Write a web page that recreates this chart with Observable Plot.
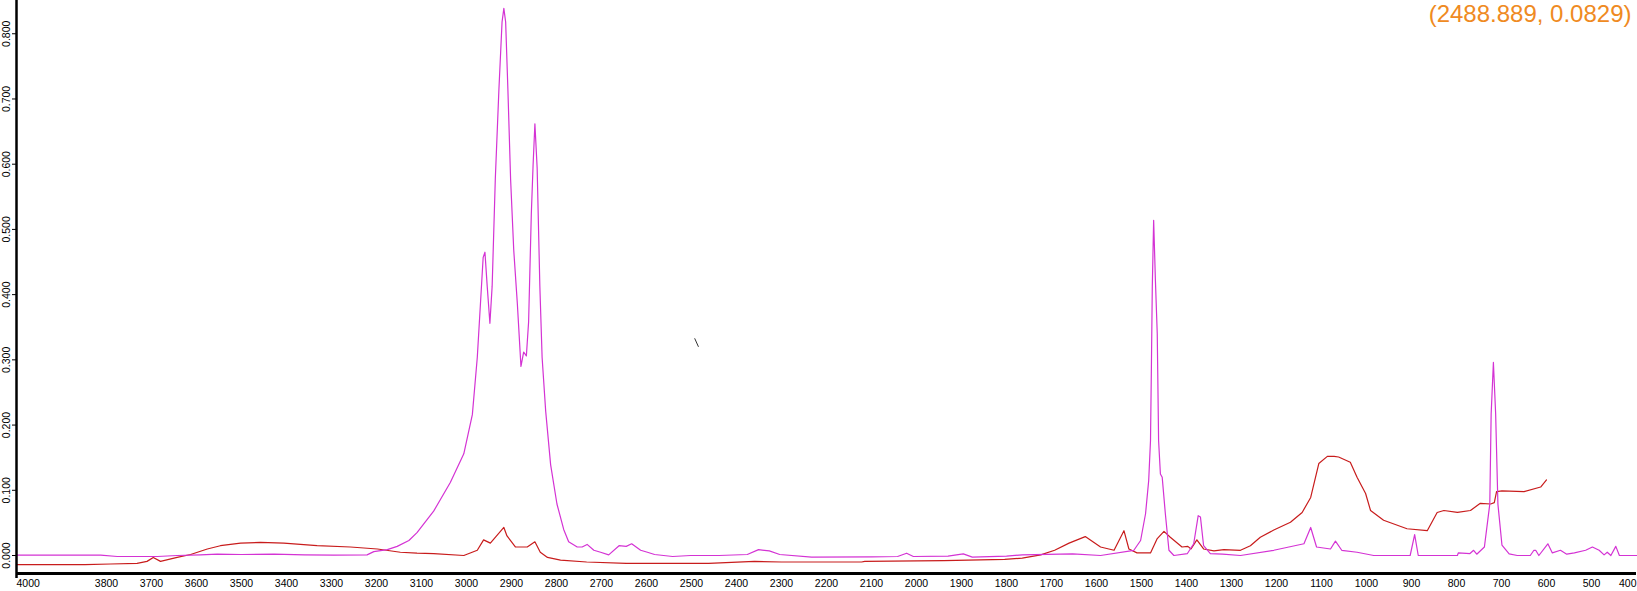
<!DOCTYPE html>
<html><head><meta charset="utf-8">
<script src="https://cdn.jsdelivr.net/npm/d3@7"></script>
<script src="https://cdn.jsdelivr.net/npm/@observablehq/plot@0.6"></script>
<style>body{margin:0;background:#fff;}#chart{width:1637px;height:591px;}</style>
</head><body><div id="chart"></div>
<script>
// Spectrum A (magenta): wavenumber (cm-1) and absorbance
const waveA = [4000,3813,3776,3740,3687,3643,3591,3554,3500,3428,3360,3295,3221,3206,3176,3154,3128,3110,3073,3036,3006,2987,2976,2969,2963,2959,2954,2948,2943,2936,2928,2921,2917,2913,2908,2902,2895,2887,2879,2873,2867,2862,2856,2852,2848,2843,2837,2832,2824,2813,2799,2784,2773,2754,2743,2732,2717,2702,2684,2661,2645,2633,2613,2598,2582,2542,2502,2439,2376,2351,2327,2304,2233,2100,2042,2022,2007,1930,1896,1876,1800,1765,1653,1591,1517,1502,1491,1484,1480,1478,1476,1473,1469,1465,1462,1458,1454,1447,1439,1428,1398,1384,1374,1369,1362,1347,1320,1280,1206,1139,1124,1111,1080,1069,1055,1021,984,903,893,885,798,796,770,762,755,738,726,723,718,713,708,699,683,665,636,628,624,617,597,587,569,555,538,513,498,483,472,465,457,446,438,400];
const absA  = [0.0005,0.0005,-0.0015,-0.0015,-0.0015,0.0,0.001,0.002,0.0015,0.002,0.001,0.0005,0.001,0.006,0.009,0.014,0.023,0.035,0.068,0.112,0.156,0.216,0.304,0.386,0.457,0.465,0.413,0.356,0.413,0.577,0.714,0.818,0.839,0.818,0.714,0.577,0.468,0.386,0.290,0.312,0.306,0.358,0.523,0.599,0.662,0.594,0.413,0.304,0.221,0.139,0.079,0.040,0.021,0.013,0.013,0.017,0.008,0.005,0.001,0.015,0.014,0.018,0.008,0.005,0.0015,-0.0015,0.0,0.0,0.0015,0.009,0.007,0.0015,-0.0025,-0.002,-0.0015,0.0035,-0.0015,-0.001,0.0025,-0.0025,-0.001,0.001,0.0025,0.0,0.008,0.023,0.064,0.115,0.176,0.289,0.412,0.514,0.42,0.34,0.176,0.125,0.120,0.064,0.008,0.0,0.003,0.018,0.061,0.059,0.015,0.003,0.002,0.0,0.008,0.018,0.043,0.013,0.010,0.022,0.008,0.005,0.0,0.0,0.032,0.0,0.0,0.004,0.003,0.008,0.002,0.013,0.079,0.217,0.296,0.217,0.079,0.016,0.0025,0.0,0.0,0.008,0.008,0.0,0.018,0.004,0.008,0.002,0.004,0.008,0.013,0.008,0.001,0.005,0.0,0.014,0.0,0.0];
// Spectrum B (red)
const waveB = [4000,3848,3791,3732,3710,3696,3680,3643,3613,3576,3547,3502,3458,3406,3332,3258,3198,3147,3110,3073,3006,2976,2962,2947,2917,2910,2891,2865,2848,2836,2820,2791,2733,2645,2462,2360,2300,2122,2115,1939,1804,1765,1724,1693,1661,1625,1591,1561,1539,1528,1510,1480,1465,1450,1436,1410,1397,1390,1377,1362,1339,1317,1280,1258,1236,1206,1169,1143,1124,1106,1087,1072,1062,1036,1021,1002,991,962,910,865,843,828,798,769,747,724,716,711,699,650,613,600];
const absB  = [-0.014,-0.014,-0.013,-0.012,-0.009,-0.003,-0.009,-0.003,0.0015,0.010,0.015,0.019,0.020,0.019,0.015,0.013,0.010,0.005,0.0035,0.003,0.0,0.008,0.024,0.019,0.043,0.030,0.013,0.013,0.021,0.005,-0.003,-0.007,-0.010,-0.012,-0.012,-0.009,-0.010,-0.010,-0.009,-0.008,-0.006,-0.004,0.001,0.008,0.019,0.029,0.013,0.008,0.038,0.010,0.004,0.004,0.026,0.037,0.028,0.013,0.014,0.010,0.024,0.010,0.007,0.009,0.008,0.015,0.028,0.039,0.051,0.066,0.089,0.141,0.152,0.152,0.151,0.143,0.120,0.095,0.069,0.054,0.041,0.038,0.066,0.069,0.066,0.069,0.080,0.079,0.081,0.098,0.099,0.098,0.105,0.116];
// Axis ticks
const xTicks = [3800,3700,3600,3500,3400,3300,3200,3100,3000,2900,2800,2700,2600,2500,2400,2300,2200,2100,2000,1900,1800,1700,1600,1500,1400,1300,1200,1100,1000,900,800,700,600,500];
const xEdgeLeft = [4000];
const xEdgeRight = [400];
const yTicks = [0,0.1,0.2,0.3,0.4,0.5,0.6,0.7,0.8];
const yDomain = [-0.0276, 0.851];
// Cursor readout and cursor mark
const readout = ["(2488.889, 0.0829)"];
const cursorMark = [{x1: 2493, y1: 0.333, x2: 2484.5, y2: 0.320}];

const dataA = waveA.map((x, i) => ({x, y: absA[i]}));
const dataB = waveB.map((x, i) => ({x, y: absB[i]}));
const fmt = d3.format(".3f");

const chart = Plot.plot({
  width: 1637, height: 591,
  marginLeft: 16, marginRight: 1, marginTop: 0, marginBottom: 18,
  x: {domain: [4000, 400]},
  y: {domain: yDomain},
  style: {fontFamily: "'Liberation Sans', Arial, sans-serif", background: "white", color: "black"},
  marks: [
    Plot.line(dataB, {x: "x", y: "y", stroke: "#c81c1c", strokeWidth: 1.2}),
    Plot.line(dataA, {x: "x", y: "y", stroke: "#d433d4", strokeWidth: 1.2}),
    Plot.link(cursorMark, {x1: "x1", y1: "y1", x2: "x2", y2: "y2", stroke: "#333", strokeWidth: 1}),
    Plot.ruleY([yDomain[0]], {stroke: "black", strokeWidth: 3}),
    Plot.ruleX([4000], {stroke: "black", strokeWidth: 2.5, insetBottom: -5}),
    Plot.axisY({ticks: yTicks, tickSize: 4, tickFormat: () => "", label: null}),
    Plot.text(yTicks, {x: 4000, y: d => d, text: d => fmt(d), rotate: -90, dx: -9.5, fontSize: 10.5, fill: "black"}),
    Plot.axisX({ticks: xTicks, tickSize: 0, tickPadding: 6, fontSize: 10.5, tickFormat: d => String(d), label: null}),
    Plot.axisX({ticks: xEdgeLeft, tickSize: 0, tickPadding: 6, fontSize: 10.5, textAnchor: "start", tickFormat: d => String(d), label: null}),
    Plot.axisX({ticks: xEdgeRight, tickSize: 0, tickPadding: 6, fontSize: 10.5, textAnchor: "end", tickFormat: d => String(d), label: null}),
    Plot.text(readout, {frameAnchor: "top-right", textAnchor: "end", lineAnchor: "middle", dx: -5, dy: 14, fontSize: 24, fill: "#ef8a22"})
  ]
});
document.getElementById("chart").appendChild(chart);
</script>
</body></html>
